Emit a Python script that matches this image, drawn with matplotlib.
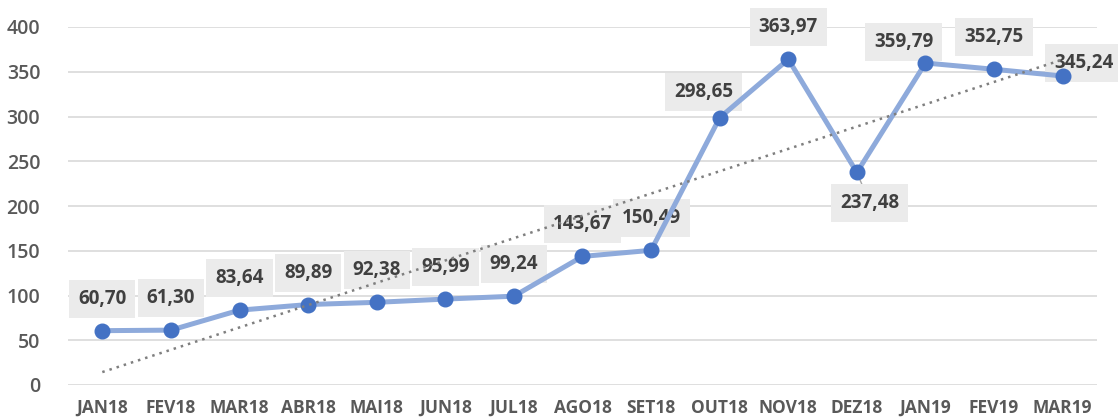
import numpy as np
import matplotlib
matplotlib.use("Agg")
import matplotlib.pyplot as plt

months = ["JAN18", "FEV18", "MAR18", "ABR18", "MAI18", "JUN18", "JUL18", "AGO18",
          "SET18", "OUT18", "NOV18", "DEZ18", "JAN19", "FEV19", "MAR19"]
values = [60.70, 61.30, 83.64, 89.89, 92.38, 95.99, 99.24, 143.67,
          150.49, 298.65, 363.97, 237.48, 359.79, 352.75, 345.24]

# deslocamento dos rótulos (pixels), padrão = acima do ponto
label_offsets = {"OUT18": (-16, 26), "DEZ18": (13, -31), "JAN19": (-22, 21), "MAR19": (21, 13)}

plt.rcParams['font.family'] = ['Open Sans', 'DejaVu Sans']

fig = plt.figure(figsize=(11.18, 4.18), dpi=100)
ax = fig.add_axes([68 / 1118, 1 - 385 / 418, (1097 - 68) / 1118, (385 - 27) / 418])

x = np.arange(len(months))
ax.plot(x, values, color='#8eaadb', lw=3.6, zorder=3, solid_capstyle='round')
ax.plot(x, values, 'o', color='#4472c4', ms=10.5, zorder=4)

# linha de tendência linear
k, b = np.polyfit(x, values, 1)
ax.plot(x, k * x + b, color='#7f7f7f', lw=1.8, ls=(0, (1, 2)), zorder=5)

for xi, m, v in zip(x, months, values):
    dx, dy = label_offsets.get(m, (0, 32))
    arrow = None
    if m == "DEZ18":
        arrow = dict(arrowstyle='-', color='#a6a6a6', lw=1, shrinkA=0, shrinkB=6)
    ax.annotate(f"{v:.2f}".replace('.', ','), xy=(xi, v), xytext=(dx, dy),
                textcoords='offset pixels', ha='center', va='center',
                fontsize=13.5, fontweight='bold', color='#404040', zorder=2,
                bbox=dict(boxstyle='square,pad=0.48', fc='#ebebeb', ec='none'),
                arrowprops=arrow, annotation_clip=False)

ax.set_xlim(-0.5, len(months) - 0.5)
ax.set_ylim(0, 400)
ax.set_yticks(range(0, 401, 50))
ax.set_xticks(x)
ax.set_xticklabels(months, fontsize=12.5, fontweight='bold', color='#595959')
for t in ax.get_yticklabels():
    t.set_fontweight('semibold')
ax.tick_params(axis='y', labelsize=14, colors='#595959', length=0, pad=20)
ax.tick_params(axis='x', length=0, pad=10)
ax.grid(axis='y', color='#d9d9d9', lw=1.2)
ax.set_axisbelow(True)
for s in ax.spines.values():
    s.set_visible(False)

plt.savefig("out.png", dpi=100)
